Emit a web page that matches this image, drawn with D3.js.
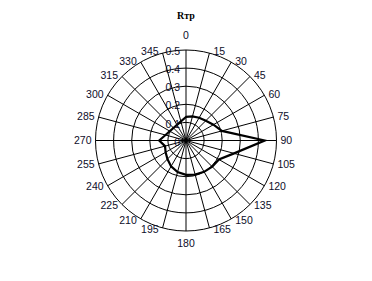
<!DOCTYPE html>
<html><head><meta charset="utf-8">
<script src="https://cdn.jsdelivr.net/npm/d3@7"></script>
<style>html,body{margin:0;padding:0;background:#fff;}svg{display:block;}</style>
</head><body>
<svg id="c" width="372" height="281"></svg>
<script>
const title = "Rтр";
const angles = [0,15,30,45,60,75,90,105,120,135,150,165,180,195,210,225,240,255,270,285,300,315,330,345];
const values = [0.13,0.138,0.145,0.155,0.175,0.205,0.435,0.275,0.21,0.205,0.20,0.195,0.19,0.18,0.165,0.145,0.13,0.12,0.148,0.117,0.103,0.098,0.10,0.109];
const radialTicks = [0,0.1,0.2,0.3,0.4,0.5];
const radialTickLabels = ["0","0.1","0.2","0.3","0.4","0.5"];

const svg = d3.select("#c");
const cx = 186, cy = 140.5, R = 90.5;
const r = d3.scaleLinear().domain([0,0.5]).range([0,R]);
const a = d3.scaleLinear().domain([0,360]).range([0,2*Math.PI]);
const g = svg.append("g").attr("transform",`translate(${cx},${cy})`);
const txtCol = "#0e0e2a";

// rings
g.selectAll("circle.ring").data(radialTicks.slice(1)).join("circle")
  .attr("r", d=>r(d)).attr("fill","none").attr("stroke","#000").attr("stroke-width",1);
// spokes
g.selectAll("line.spoke").data(angles).join("line")
  .attr("x1",0).attr("y1",0)
  .attr("x2",d=>R*Math.sin(a(d))).attr("y2",d=>-R*Math.cos(a(d)))
  .attr("stroke","#000").attr("stroke-width",1);

// data line
const line = d3.lineRadial().angle((d,i)=>a(angles[i])).radius(d=>r(d)).curve(d3.curveLinearClosed);
g.append("path").attr("d", line(values)).attr("fill","none").attr("stroke","#000").attr("stroke-width",2.2).attr("stroke-linejoin","miter");

// angle labels
g.selectAll("text.ang").data(angles).join("text")
  .attr("font-family","Liberation Sans, Arial, sans-serif").attr("font-size","10.5px").attr("fill",txtCol)
  .each(function(d){
    const s = Math.sin(a(d)), c = Math.cos(a(d));
    const px = R*s, py = -R*c;
    const t = d3.select(this).text(d);
    if (Math.abs(s) < 0.05) {
      t.attr("text-anchor","middle").attr("x",px).attr("y", c>0 ? py-15 : py+12).attr("dy","0.35em");
    } else {
      t.attr("text-anchor", s>0 ? "start":"end").attr("x", px + (s>0?4:-4)).attr("y", py - 1.5*c).attr("dy","0.35em");
    }
  });

// radial tick labels
g.selectAll("text.rad").data(radialTicks).join("text")
  .attr("font-family","Liberation Sans, Arial, sans-serif").attr("font-size","10.5px").attr("fill",txtCol)
  .attr("text-anchor","end").attr("x",-6).attr("y",d=>-r(d)+1.5).attr("dy","0.35em")
  .text((d,i)=>radialTickLabels[i]);

svg.append("text").attr("x",186).attr("y",15).attr("dy","0.35em").attr("text-anchor","middle")
  .attr("font-family","Liberation Serif, Times New Roman, serif").attr("font-weight","bold").attr("font-size","10px")
  .attr("fill","#000").text(title);
</script>
</body></html>
